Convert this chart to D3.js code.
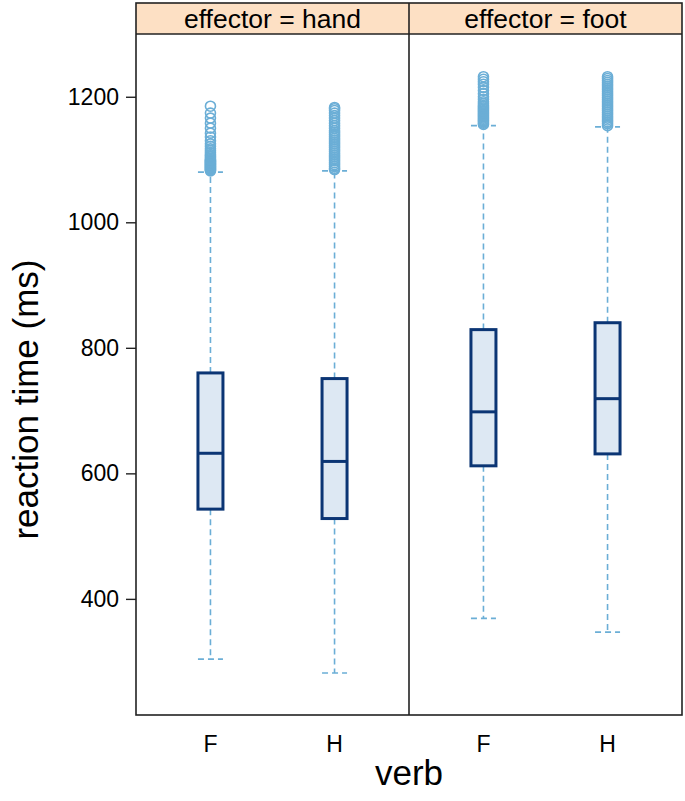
<!DOCTYPE html>
<html>
<head>
<meta charset="utf-8">
<script src="https://cdn.jsdelivr.net/npm/d3@7"></script>
<style>
  html, body { margin: 0; padding: 0; background: #fff; }
  svg { display: block; font-family: "Liberation Sans", Arial, sans-serif; }
</style>
</head>
<body>
<svg id="chart" width="685" height="801"></svg>
<script>
// ---- data ----
const effectors = ["hand", "foot"];
const verbs = ["F", "H"];
// per panel (effector) and per verb: [F, H]
const lowerWhisker = { hand: [304, 282], foot: [369, 347] };
const lowerQuartile = { hand: [543, 528], foot: [612, 631] };
const medians = { hand: [632, 619], foot: [698, 719] };
const upperQuartile = { hand: [760, 751], foot: [829, 840] };
const upperWhisker = { hand: [1080, 1082], foot: [1154, 1152] };
const outliersHandF = [1082,1083,1084,1085,1086,1087,1088,1089,1090,1091,1092,1093,1094,1095,1096,1097,1098,1099,1100,1102,1104,1106,1108,1111,1114,1117,1121,1125,1130,1136,1142,1150,1158,1166,1174,1185];
const outliersHandH = [1084,1086,1089,1092,1095,1098,1101,1104,1107,1110,1113,1116,1119,1122,1125,1128,1131,1134,1137,1140,1143,1146,1150,1154,1158,1162,1166,1170,1174,1178,1181,1183];
const outliersFootF = [1156,1158,1160,1162,1164,1166,1168,1170,1172,1174,1176,1178,1180,1182,1184,1186,1189,1192,1196,1200,1205,1210,1215,1220,1224,1228,1232];
const outliersFootH = [1154,1157,1160,1163,1166,1169,1172,1175,1178,1181,1184,1187,1190,1193,1196,1199,1202,1205,1208,1211,1214,1217,1220,1223,1226,1229,1232];
const outliers = { hand: [outliersHandF, outliersHandH], foot: [outliersFootF, outliersFootH] };
const yTicks = [400, 600, 800, 1000, 1200];
const stripLabels = ["effector = hand", "effector = foot"];
const yLabel = "reaction time (ms)";
const xLabel = "verb";

// ---- layout ----
const svg = d3.select("#chart");
const left = 136, right = 682, stripTop = 3, stripBottom = 34, bottom = 715;
const panelX = d3.scaleBand().domain(effectors).range([left, right]);
const y = d3.scaleLinear().domain([215, 1300]).range([bottom, stripBottom]);
const pw = panelX.bandwidth();
const x = d3.scaleLinear().domain([0.4, 2.6]).range([0, pw]);
const boxW = 25;

const boxStroke = "#0b3574", boxFill = "#dde8f3", whisk = "#6baed6";
const font = "'Liberation Sans', Arial, sans-serif";

effectors.forEach((eff, pi) => {
  const x0 = panelX(eff);
  const g = svg.append("g").attr("transform", `translate(${x0},0)`);
  // strip
  g.append("rect").attr("x", 0).attr("y", stripTop).attr("width", pw).attr("height", stripBottom - stripTop)
    .attr("fill", "#fde0c4").attr("stroke", "none");
  g.append("text").attr("x", pw / 2).attr("y", (stripTop + stripBottom) / 2 + 9)
    .attr("text-anchor", "middle").attr("font-size", 26.5).attr("fill", "#000").text(stripLabels[pi]);

  verbs.forEach((v, vi) => {
    const cx = x(vi + 1);
    // whiskers (dashed)
    const wg = g.append("g").attr("stroke", whisk).attr("stroke-width", 1.6).attr("stroke-dasharray", "6,4").attr("fill", "none");
    wg.append("line").attr("x1", cx).attr("x2", cx).attr("y1", y(upperQuartile[eff][vi])).attr("y2", y(upperWhisker[eff][vi]));
    wg.append("line").attr("x1", cx).attr("x2", cx).attr("y1", y(lowerQuartile[eff][vi])).attr("y2", y(lowerWhisker[eff][vi]));
    wg.append("line").attr("x1", cx - boxW / 2).attr("x2", cx + boxW / 2).attr("y1", y(upperWhisker[eff][vi])).attr("y2", y(upperWhisker[eff][vi]));
    wg.append("line").attr("x1", cx - boxW / 2).attr("x2", cx + boxW / 2).attr("y1", y(lowerWhisker[eff][vi])).attr("y2", y(lowerWhisker[eff][vi]));
    // box
    g.append("rect").attr("x", cx - boxW / 2).attr("width", boxW)
      .attr("y", y(upperQuartile[eff][vi])).attr("height", y(lowerQuartile[eff][vi]) - y(upperQuartile[eff][vi]))
      .attr("fill", boxFill).attr("stroke", boxStroke).attr("stroke-width", 3);
    g.append("line").attr("x1", cx - boxW / 2).attr("x2", cx + boxW / 2)
      .attr("y1", y(medians[eff][vi])).attr("y2", y(medians[eff][vi]))
      .attr("stroke", boxStroke).attr("stroke-width", 3);
    // outliers
    g.selectAll(null).data(outliers[eff][vi]).enter().append("circle")
      .attr("cx", cx).attr("cy", d => y(d)).attr("r", 5)
      .attr("fill", "none").attr("stroke", whisk).attr("stroke-width", 1.6);
    // x tick label
    g.append("text").attr("x", cx).attr("y", 752).attr("text-anchor", "middle")
      .attr("font-size", 23).attr("fill", "#000").text(v);
  });
});

// borders
const bg = svg.append("g").attr("fill", "none").attr("stroke", "#222").attr("stroke-width", 1.6);
bg.append("rect").attr("x", left).attr("y", stripTop).attr("width", right - left).attr("height", bottom - stripTop);
bg.append("line").attr("x1", left).attr("x2", right).attr("y1", stripBottom).attr("y2", stripBottom);
bg.append("line").attr("x1", panelX("foot")).attr("x2", panelX("foot")).attr("y1", stripTop).attr("y2", bottom);

// y axis
const yAxis = d3.axisLeft(y).tickValues(yTicks).tickFormat(d3.format("d")).tickSize(10).tickPadding(7);
const ya = svg.append("g").attr("transform", `translate(${left},0)`).call(yAxis);
ya.select(".domain").remove();
ya.selectAll(".tick line").attr("stroke", "#222").attr("stroke-width", 1.4);
ya.selectAll(".tick text").attr("font-size", 23).attr("font-family", font).attr("fill", "#000");

// axis titles
svg.append("text").attr("transform", `translate(38,${(stripBottom + bottom) / 2 + 25}) rotate(-90)`)
  .attr("text-anchor", "middle").attr("font-size", 35).attr("fill", "#000").text(yLabel);
svg.append("text").attr("x", (left + right) / 2).attr("y", 785).attr("text-anchor", "middle")
  .attr("font-size", 35).attr("fill", "#000").text(xLabel);
</script>
</body>
</html>
